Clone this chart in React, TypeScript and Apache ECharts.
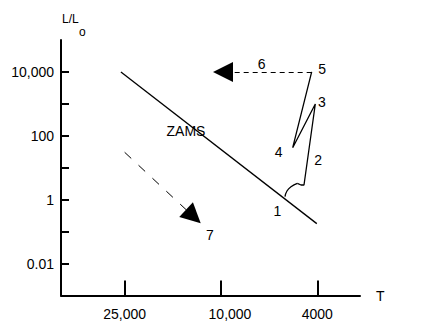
import React, { useEffect, useRef } from "react";
import * as echarts from "echarts";

// Axis ticks (data space)
const T_TICKS = [25000, 10000, 4000];
const T_TICK_LABELS = ["25,000", "10,000", "4000"];
const L_TICK_MARKS = [0.01, 0.1, 1, 10, 100, 1000, 10000];
const L_TICK_VALUES = [0.01, 1, 100, 10000];
const L_TICK_LABELS = ["0.01", "1", "100", "10,000"];
const T_RANGE = [2665, 45800];
const L_RANGE = [0.001, 100000];

// Zero-age main sequence
const zamsT = [25900, 4020];
const zamsL = [10000, 0.178];

// Evolutionary track: curved start from ZAMS (1) toward 2
const arcT = [5439, 5338, 5137, 4837];
const arcL = [1.24, 1.87, 2.55, 3.26];
// Track 2 -> 3 -> 4 -> 5
const trackT = [4837, 4670, 4540, 4077, 5055, 4220];
const trackL = [3.26, 2.88, 2.88, 990, 42.5, 10000];

// Dashed arrows (end = centre of the arrow head)
const arrow6T = [4220, 9810];
const arrow6L = [10000, 10000];
const arrow7T = [25000, 13000];
const arrow7L = [30.5, 0.298];

// Stage labels
const stageNames = ["1", "2", "3", "4", "5", "6", "7", "ZAMS"];
const stageT = [5815, 3948, 3807, 5748, 3800, 6760, 11070, 13890];
const stageL = [0.42, 17.1, 1089, 29.4, 11920, 17100, 0.0757, 134.6];

const lg = (v: number) => Math.log10(v);
const FONT = "'Liberation Sans', Arial, Helvetica, sans-serif";
// style: horizontal nudge (px) of individual x tick labels
const X_LABEL_NUDGE = [0, 9, 0];

function nearestIndex(v: number, vals: number[]) {
  let best = -1;
  let bd = Infinity;
  vals.forEach((x, i) => {
    const d = Math.abs(lg(x) - v);
    if (d < bd) {
      bd = d;
      best = i;
    }
  });
  return bd < 1e-6 ? best : -1;
}

export default function App() {
  const ref = useRef<HTMLDivElement>(null);
  useEffect(() => {
    if (!ref.current) return;
    const chart = echarts.init(ref.current, undefined, { renderer: "svg" });
    const pts = (ts: number[], ls: number[]) => ts.map((t, i) => [lg(t), lg(ls[i])]);
    const lineStyle = { color: "#000", width: 1.3 };
    const rich: Record<string, any> = {};
    X_LABEL_NUDGE.forEach((n, i) => {
      rich["x" + i] = {
        fontSize: 14,
        fontFamily: FONT,
        color: "#000",
        padding: [0, n > 0 ? 0 : -2 * n, 0, n > 0 ? 2 * n : 0],
      };
    });
    chart.setOption({
      animation: false,
      backgroundColor: "#fff",
      textStyle: { fontFamily: FONT },
      grid: { left: 61, right: 74, top: 40, bottom: 36.5, containLabel: false },
      xAxis: {
        type: "value",
        inverse: true,
        min: lg(T_RANGE[0]),
        max: lg(T_RANGE[1]),
        splitLine: { show: false },
        axisLine: { show: true, onZero: false, lineStyle: { color: "#000", width: 2 } },
        axisTick: {
          show: true,
          inside: true,
          length: 15,
          lineStyle: { color: "#000", width: 2 },
          customValues: T_TICKS.map(lg),
        },
        axisLabel: {
          show: true,
          margin: 11,
          color: "#000",
          fontSize: 14,
          fontFamily: FONT,
          customValues: T_TICKS.map(lg),
          rich,
          formatter: (v: number) => {
            const i = nearestIndex(v, T_TICKS);
            return i < 0 ? "" : `{x${i}|${T_TICK_LABELS[i]}}`;
          },
        },
      },
      yAxis: {
        type: "value",
        min: lg(L_RANGE[0]),
        max: lg(L_RANGE[1]),
        splitLine: { show: false },
        axisLine: { show: true, onZero: false, lineStyle: { color: "#000", width: 2 } },
        axisTick: {
          show: true,
          inside: true,
          length: 8,
          lineStyle: { color: "#000", width: 2 },
          customValues: L_TICK_MARKS.map(lg),
        },
        axisLabel: {
          show: true,
          margin: 7,
          color: "#000",
          fontSize: 14,
          fontFamily: FONT,
          customValues: L_TICK_VALUES.map(lg),
          formatter: (v: number) => {
            const i = nearestIndex(v, L_TICK_VALUES);
            return i < 0 ? "" : L_TICK_LABELS[i];
          },
        },
      },
      graphic: [
        {
          type: "text",
          left: 62,
          top: 13,
          style: { text: "L/L", fontSize: 12, fontFamily: FONT, fill: "#000" },
        },
        {
          type: "text",
          left: 79,
          top: 26,
          style: { text: "o", fontSize: 12, fontFamily: FONT, fill: "#000" },
        },
        {
          type: "text",
          left: 376,
          top: 289,
          style: { text: "T", fontSize: 14, fontFamily: FONT, fill: "#000" },
        },
      ],
      series: [
        {
          type: "line",
          data: pts(zamsT, zamsL),
          symbol: "none",
          lineStyle,
        },
        {
          type: "line",
          data: pts(arcT, arcL),
          symbol: "none",
          smooth: 0.5,
          lineStyle,
        },
        {
          type: "line",
          data: pts(trackT, trackL),
          symbol: "none",
          lineStyle,
        },
        {
          type: "lines",
          coordinateSystem: "cartesian2d",
          symbol: ["none", "triangle"],
          symbolSize: [10, 20],
          lineStyle: { color: "#000", width: 1, type: [5, 4], opacity: 1 },
          itemStyle: { color: "#000" },
          data: [{ coords: pts(arrow6T, arrow6L) }],
        },
        {
          type: "lines",
          coordinateSystem: "cartesian2d",
          symbol: ["none", "triangle"],
          symbolSize: [10, 20],
          lineStyle: { color: "#000", width: 1, type: [9, 10], opacity: 1 },
          itemStyle: { color: "#000" },
          data: [{ coords: pts(arrow7T, arrow7L) }],
        },
        {
          type: "scatter",
          symbol: "circle",
          symbolSize: 1,
          itemStyle: { color: "#000", opacity: 0 },
          data: stageNames.map((n, i) => ({ name: n, value: [lg(stageT[i]), lg(stageL[i])] })),
          label: {
            show: true,
            position: [0, 0],
            align: "center",
            verticalAlign: "middle",
            formatter: "{b}",
            color: "#000",
            opacity: 1,
            textBorderWidth: 0,
            fontSize: 14,
            fontFamily: FONT,
          },
        },
      ],
    });
    return () => chart.dispose();
  }, []);
  return (
    <div
      ref={ref}
      style={{ position: "fixed", left: 0, top: 0, width: 434, height: 332, background: "#fff" }}
    />
  );
}
